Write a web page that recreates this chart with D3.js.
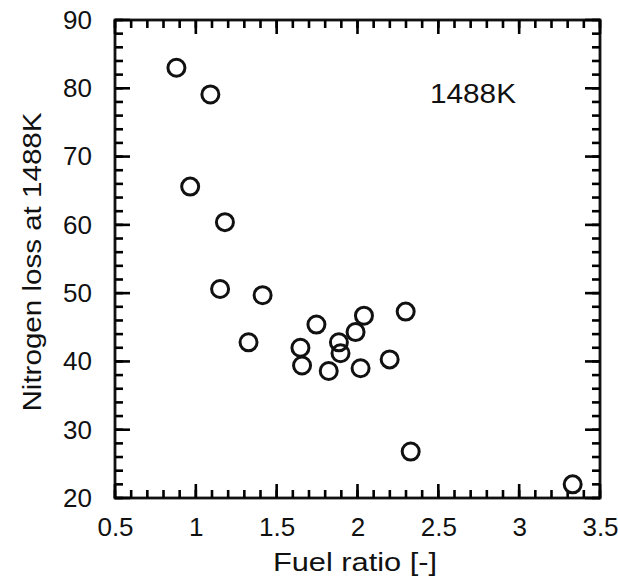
<!DOCTYPE html>
<html>
<head>
<meta charset="utf-8">
<script src="https://cdn.jsdelivr.net/npm/d3@7"></script>
<style>
  body { margin: 0; background: #fff; }
  text { font-family: "Liberation Sans", Arial, sans-serif; fill: #111; }
</style>
</head>
<body>
<div id="chart"></div>
<script>
// Data
const fuelRatio = [0.88, 1.09, 0.965, 1.18, 1.15, 1.413, 1.326, 1.746, 1.647, 1.657,
                   1.822, 1.885, 1.895, 1.988, 2.04, 2.019, 2.199, 2.298, 2.329, 3.331];
const nitrogenLoss = [83.0, 79.1, 65.6, 60.4, 50.6, 49.7, 42.8, 45.4, 42.0, 39.4,
                      38.6, 42.8, 41.2, 44.3, 46.7, 39.0, 40.3, 47.3, 26.8, 22.0];
const xTicks = [0.5, 1, 1.5, 2, 2.5, 3, 3.5];
const xTickLabels = ["0.5", "1", "1.5", "2", "2.5", "3", "3.5"];
const yTicks = [20, 30, 40, 50, 60, 70, 80, 90];
const annotation = "1488K";

// Chart config
const width = 618, height = 582;
const margin = { top: 20, right: 18, bottom: 84, left: 115 };
const plotW = width - margin.left - margin.right;
const plotH = height - margin.top - margin.bottom;

const svg = d3.select("#chart")
  .append("svg")
  .attr("width", width)
  .attr("height", height);

const g = svg.append("g")
  .attr("transform", `translate(${margin.left},${margin.top})`);

const xScale = d3.scaleLinear().domain([0.5, 3.5]).range([0, plotW]);
const yScale = d3.scaleLinear().domain([20, 90]).range([plotH, 0]);

const xMinor = d3.range(0.5, 3.5001, 0.1);
const yMinor = d3.range(20, 90.001, 2);

// frame
g.append("rect")
  .attr("x", 0).attr("y", 0)
  .attr("width", plotW).attr("height", plotH)
  .attr("fill", "none")
  .attr("stroke", "#111")
  .attr("stroke-width", 2.8);

// inward ticks on all four sides
function xTickLines(values, len) {
  const t = g.append("g");
  t.selectAll("line.bottom").data(values).enter().append("line")
    .attr("class", "bottom")
    .attr("x1", d => xScale(d)).attr("x2", d => xScale(d))
    .attr("y1", plotH).attr("y2", plotH - len);
  t.selectAll("line.top").data(values).enter().append("line")
    .attr("class", "top")
    .attr("x1", d => xScale(d)).attr("x2", d => xScale(d))
    .attr("y1", 0).attr("y2", len);
  t.selectAll("line").attr("stroke", "#000").attr("stroke-width", 2.6);
}
function yTickLines(values, len) {
  const t = g.append("g");
  t.selectAll("line.left").data(values).enter().append("line")
    .attr("class", "left")
    .attr("y1", d => yScale(d)).attr("y2", d => yScale(d))
    .attr("x1", 0).attr("x2", len);
  t.selectAll("line.right").data(values).enter().append("line")
    .attr("class", "right")
    .attr("y1", d => yScale(d)).attr("y2", d => yScale(d))
    .attr("x1", plotW).attr("x2", plotW - len);
  t.selectAll("line").attr("stroke", "#000").attr("stroke-width", 2.6);
}
xTickLines(xMinor, 8);
xTickLines(xTicks, 14);
yTickLines(yMinor, 8);
yTickLines(yTicks, 15);

// tick labels via d3 axes
g.append("g").attr("transform", `translate(0,${plotH})`)
  .call(d3.axisBottom(xScale).tickValues(xTicks).tickSize(0).tickPadding(20)
    .tickFormat((d, i) => xTickLabels[i]));
g.append("g")
  .call(d3.axisLeft(yScale).tickValues(yTicks).tickSize(0).tickPadding(23)
    .tickFormat(d3.format("d")));

g.selectAll(".domain").remove();
g.selectAll(".tick text").style("font-size", "26px").attr("fill", "#111");

// points
const points = fuelRatio.map((x, i) => ({ x: x, y: nitrogenLoss[i] }));
g.selectAll(".pt")
  .data(points)
  .enter()
  .append("circle")
  .attr("class", "pt")
  .attr("cx", d => xScale(d.x))
  .attr("cy", d => yScale(d.y))
  .attr("r", 8.5)
  .attr("fill", "none")
  .attr("stroke", "#111")
  .attr("stroke-width", 3);

// annotation
svg.append("text")
  .attr("x", 430)
  .attr("y", 103)
  .style("font-size", "28px")
  .attr("textLength", 86)
  .attr("lengthAdjust", "spacingAndGlyphs")
  .text(annotation);

// axis titles
svg.append("text")
  .attr("x", 355)
  .attr("y", 571)
  .attr("text-anchor", "middle")
  .style("font-size", "26px")
  .attr("textLength", 164)
  .attr("lengthAdjust", "spacingAndGlyphs")
  .text("Fuel ratio  [-]");

svg.append("text")
  .attr("transform", "translate(41,262) rotate(-90)")
  .attr("text-anchor", "middle")
  .style("font-size", "26px")
  .attr("textLength", 299)
  .attr("lengthAdjust", "spacingAndGlyphs")
  .text("Nitrogen loss at 1488K");
</script>
</body>
</html>
